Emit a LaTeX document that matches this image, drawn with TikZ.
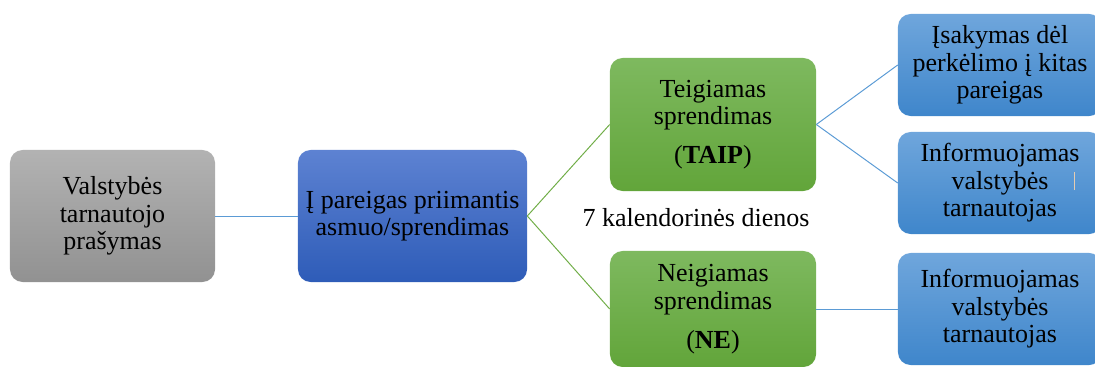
\documentclass[tikz,border=0pt]{standalone}
\usepackage{fontspec}
\setmainfont{Liberation Serif}
\usepackage{tikz}
\usetikzlibrary{calc}
\definecolor{linkblue}{HTML}{5B9BD5}
\definecolor{linkgreen}{HTML}{70AD47}
\definecolor{darktop}{RGB}{93,130,210}
\definecolor{darkbot}{RGB}{46,92,184}
\definecolor{greentop}{RGB}{126,185,95}
\definecolor{greenbot}{RGB}{98,165,58}
\definecolor{bluetop}{RGB}{111,166,220}
\definecolor{bluebot}{RGB}{63,134,203}
\tikzstyle{roundbox}=[rectangle,rounded corners=9pt,align=center,inner sep=2pt,font=\fontsize{18.5}{19.6}\selectfont]
\tikzstyle{graybox}=[roundbox,top color=black!30,bottom color=black!43,minimum width=5.125cm,minimum height=3.3cm]
\tikzstyle{darkbox}=[roundbox,top color=darktop,bottom color=darkbot,minimum width=5.725cm,minimum height=3.3cm]
\tikzstyle{greenbox}=[roundbox,top color=greentop,bottom color=greenbot,minimum width=5.15cm,minimum height=3.325cm]
\tikzstyle{bluebox}=[roundbox,top color=bluetop,bottom color=bluebot,minimum width=5.1cm]
\tikzstyle{link} = [draw,line width=0.7pt]

\begin{document}
\begin{tikzpicture}[x=0.025cm,y=-0.025cm]
    \useasboundingbox (0,0) rectangle (1095,367);
    % First we draw the boxes
    \node[graybox] (request) at (112.5,216) {Valstybės\\tarnautojo\\prašymas};
    \node[darkbox] (person) at (412.5,216) {Į pareigas priimantis\\asmuo/sprendimas};
    \node[greenbox] (yes) at (713,124.5) {Teigiamas\\sprendimas\\[8pt](\textbf{TAIP})};
    \node[greenbox,minimum height=2.9cm] (no) at (713,309) {Neigiamas\\sprendimas\\[8pt](\textbf{NE})};

    \foreach \pos/ \name/ \h/ \txt in {{(1000,65)/order/2.55cm/{Įsakymas dėl\\perkėlimo į kitas\\pareigas}},
        {(1000,183)/infoyes/2.55cm/{Informuojamas\\valstybės\\tarnautojas}},
        {(1000,309)/infono/2.8cm/{Informuojamas\\valstybės\\tarnautojas}}}
        \node[bluebox,minimum height=\h] (\name) at \pos {\txt};

    \node[font=\fontsize{18.5}{19.6}\selectfont] (days) at (696,218) {7 kalendorinės dienos};

    % Connect boxes with lines
    \path[link,linkblue] (request) -- (person);
    \foreach \source/ \dest in {person/yes, person/no}
        \path[link,linkgreen] (\source.east) -- (\dest.west);
    \foreach \source/ \dest in {yes/order, yes/infoyes, no/infono}
        \path[link,linkblue] (\source.east) -- (\dest.west);

    \draw[brown!40,line width=0.6pt] (1074,172) -- (1074,190);
\end{tikzpicture}
\end{document}
